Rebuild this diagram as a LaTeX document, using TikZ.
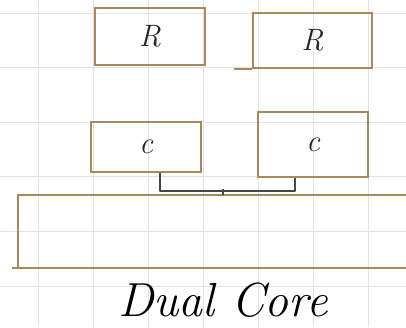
\documentclass[tikz,border=0pt]{standalone}
\usepackage{tikz}
\usetikzlibrary{calc}
\usetikzlibrary{positioning}

\definecolor{penbrown}{HTML}{A8895A}
\definecolor{pendark}{HTML}{474747}
\definecolor{gridgray}{HTML}{E2E2E2}

\begin{document}
\begin{tikzpicture}[
    x=0.25mm, y=-0.25mm,
    box/.style={draw=penbrown, line width=1.3pt, inner sep=0pt, font=\itshape\fontsize{22}{24}\selectfont, text=black!85},
    wire/.style={draw=pendark, line width=1.1pt, line join=round},
    grid line/.style={draw=gridgray, line width=0.6pt}
]
\useasboundingbox[fill=white] (0,0) rectangle (406,327);

% --- PAPER GRID ---
\foreach \gx in {38,93,148,203,258,313,368}
  \draw[grid line] (\gx,0) -- (\gx,327);
\foreach \gy in {13,67.6,122.2,176.8,231.4,286}
  \draw[grid line] (0,\gy) -- (406,\gy);

% --- REGISTERS ---
\node[box, minimum width=27.5mm, minimum height=14.25mm] (reg1) at (150,36.5) {R};
\node[box, minimum width=29.75mm, minimum height=13.75mm] (reg2) at (312.5,40.5) {R};
\draw[penbrown, line width=1.3pt] (reg2.south west) -- ++(-18,0);

% --- CORES ---
\node[box, minimum width=27.5mm, minimum height=12.5mm] (core1) at (146,147) {c};
\node[box, minimum width=27.5mm, minimum height=16.25mm] (core2) at (313,144.5) {c};

% --- SHARED BLOCK (runs off the right edge) ---
\coordinate (chip tl) at (18,195);
\coordinate (chip bl) at (18,268);
\draw[penbrown, line width=1.3pt] (406,195) -- (chip tl) -- (chip bl) -- (406,268);
\draw[penbrown, line width=1.3pt] (chip bl) ++(-6,0) -- ++(30,0);

% --- LINK BETWEEN CORES ---
\draw[wire] ([xshift=3.5mm]core1.south) -- ++(0,18) -| ([xshift=-4.5mm]core2.south);
\coordinate (tap) at (223,189);
\draw[wire] (tap) -- (tap |- chip tl);

% --- CAPTION ---
\node[font=\itshape\fontsize{34}{38}\selectfont] (caption) at (223,300) {Dual Core};

\end{tikzpicture}
\end{document}
